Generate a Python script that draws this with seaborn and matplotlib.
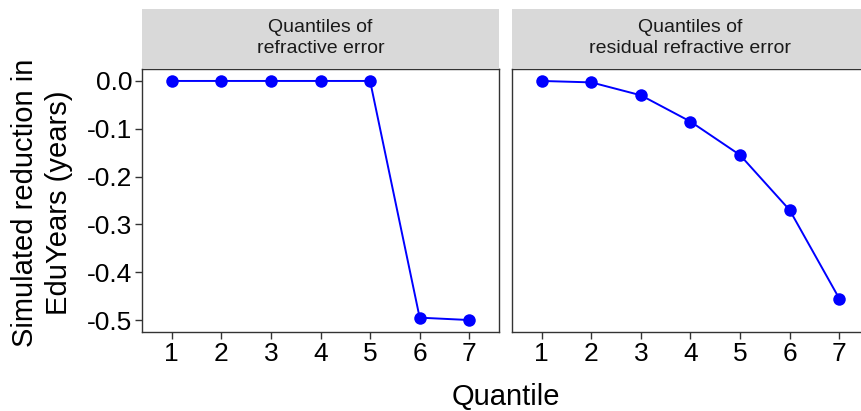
import pandas as pd
import matplotlib
matplotlib.use("Agg")
import matplotlib.pyplot as plt
import seaborn as sns
from matplotlib.patches import Rectangle

quantiles = [1, 2, 3, 4, 5, 6, 7]
refractive = [0.0, 0.0, 0.0, 0.0, 0.0, -0.495, -0.5]
residual = [0.0, -0.003, -0.030, -0.085, -0.155, -0.270, -0.455]
panel_titles = ["Quantiles of\nrefractive error", "Quantiles of\nresidual refractive error"]
y_ticks = [0.0, -0.1, -0.2, -0.3, -0.4, -0.5]

sns.set_style("ticks")
plt.rcParams['font.family'] = ['Liberation Sans', 'DejaVu Sans']
plt.rcParams['text.color'] = 'black'

W, H = 862, 411
fig = plt.figure(figsize=(W / 100, H / 100), dpi=100)

# panel boxes in pixels: left, top, width, height
panels = [(142, 69, 357, 263), (512, 69, 357, 263)]
series = [refractive, residual]

for i, ((l, t, w, h), vals, title) in enumerate(zip(panels, series, panel_titles)):
    ax = fig.add_axes([l / W, (H - t - h) / H, w / W, h / H])
    df = pd.DataFrame({"Quantile": quantiles, "value": vals})
    sns.lineplot(data=df, x="Quantile", y="value", ax=ax, color="#0000FF",
                 marker="o", markersize=9, markeredgewidth=0, linewidth=1.4)
    ax.set_xlim(0.4, 7.6)
    ax.set_ylim(-0.525, 0.025)
    ax.set_xticks(quantiles)
    ax.set_xlabel("")
    ax.set_ylabel("")
    for side in ["top", "right", "left", "bottom"]:
        ax.spines[side].set_visible(True)
        ax.spines[side].set_color("#333333")
        ax.spines[side].set_linewidth(1.0)
    ax.tick_params(axis="x", labelsize=19, length=5, width=1, color="#333333",
                   pad=2, labelcolor="black")
    if i == 0:
        ax.set_yticks(y_ticks)
        ax.set_yticklabels([f"{v:.1f}" for v in y_ticks])
        ax.tick_params(axis="y", labelsize=19, length=5, width=1, color="#333333",
                       pad=2, labelcolor="black")
    else:
        ax.set_yticks(y_ticks)
        ax.tick_params(axis="y", left=False, labelleft=False)
    # facet strip
    strip_h = 59 / h
    ax.add_patch(Rectangle((0, 1.004), 1, strip_h, transform=ax.transAxes,
                           facecolor="#D9D9D9", edgecolor="none", clip_on=False))
    ax.text(0.5, 1 + strip_h / 2 + 0.004, title, transform=ax.transAxes,
            ha="center", va="center", fontsize=14, color="#1A1A1A", linespacing=1.3)

fig.text(42 / W, 1 - 203 / H, "Simulated reduction in\nEduYears (years)", rotation=90,
         ha="center", va="center", fontsize=21, linespacing=1.25, color="black")
fig.text(506 / W, 1 - 397 / H, "Quantile", ha="center", va="center", fontsize=21,
         color="black")

plt.savefig("out.png", dpi=100)
